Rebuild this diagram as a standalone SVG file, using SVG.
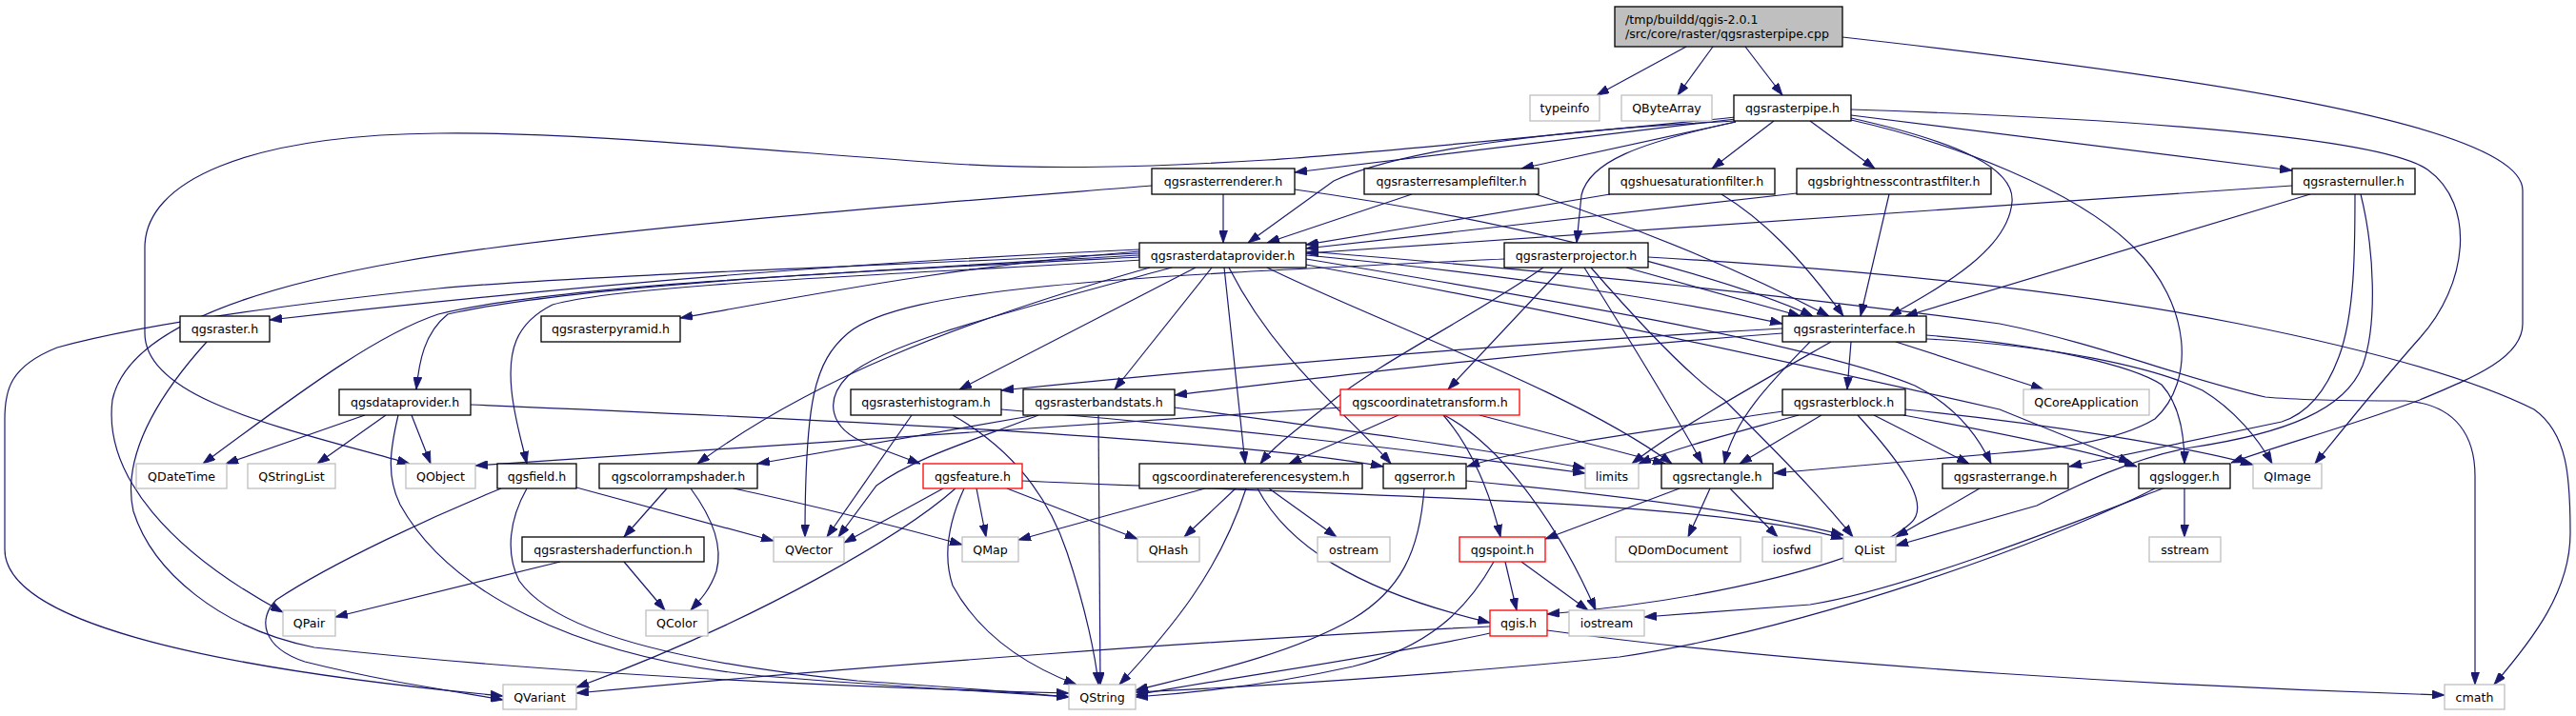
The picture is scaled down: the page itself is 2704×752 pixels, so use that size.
<svg xmlns="http://www.w3.org/2000/svg" width="2704" height="752" viewBox="0 0 2704 752">
<style>
.n rect{fill:#fff;stroke:#000;stroke-width:1.3}
.r rect{fill:#fff;stroke:#ff0000;stroke-width:1.3}
.g rect{fill:#fff;stroke:#bfbfbf;stroke-width:1.3}
text{font-family:"DejaVu Sans","Liberation Sans",sans-serif;font-size:12.6px;fill:#000;text-anchor:middle}
#edges path{fill:none;stroke:#191970;stroke-width:1.2;marker-end:url(#ah)}
</style>
<defs>
<marker id="ah" viewBox="0 0 13 9" markerWidth="13" markerHeight="9" refX="13" refY="4.5" orient="auto" markerUnits="userSpaceOnUse">
<path d="M0,0 L13,4.5 L0,9 z" fill="#191970" stroke="#191970" stroke-width="0.8"/>
</marker>
</defs>
<rect width="2704" height="752" fill="#fff"/>
<g id="edges">
<path d="M1770,49 L1676,100"/>
<path d="M1798,49 L1761,100"/>
<path d="M1832,49 L1871,100"/>
<path d="M1934,39 C2300,80 2648,130 2648,200 L2648,340 C2648,375 2600,395 2540,420 C2460,450 2390,468 2342,486"/>
<path d="M1822,125 C1650,145 1450,170 1359,181"/>
<path d="M1822,123 C1650,140 1450,160 1330,168 C1200,176 1100,178 1000,172 C800,158 600,138 460,140 C260,142 152,190 152,260 L152,350 C152,420 300,450 430,487"/>
<path d="M1822,127 C1620,137 1470,158 1400,190 L1310,255"/>
<path d="M1822,128 L1597,177"/>
<path d="M1862,127 L1797,177"/>
<path d="M1900,127 L1968,177"/>
<path d="M1943,121 L2406,179"/>
<path d="M1943,115 C2250,125 2500,145 2548,178 C2600,215 2590,300 2540,355 C2500,400 2460,450 2430,487"/>
<path d="M1943,124 C2060,150 2115,178 2112,212 C2108,262 2040,300 1983,332"/>
<path d="M1822,128 C1720,150 1668,170 1660,205 L1655,255"/>
<path d="M1943,126 C2050,150 2180,200 2240,260 C2300,320 2305,400 2262,440 C2220,465 2150,472 2099,476 L1862,497"/>
<path d="M1284,204 L1284,255"/>
<path d="M1209,195 C1000,212 620,240 420,275 C250,305 133,350 118,420 C108,500 180,580 297,643"/>
<path d="M1359,199 C1550,225 1800,285 1903,332"/>
<path d="M1482,204 L1330,255"/>
<path d="M1612,204 C1720,240 1830,285 1920,332"/>
<path d="M1690,204 L1371,257"/>
<path d="M1807,204 C1850,230 1890,270 1935,332"/>
<path d="M1886,203 L1371,261"/>
<path d="M1983,204 L1953,332"/>
<path d="M2406,195 L1371,266"/>
<path d="M2425,204 L2000,332"/>
<path d="M2472,204 C2472,260 2472,330 2455,375 C2440,415 2420,435 2395,443 L2172,490"/>
<path d="M2478,204 C2492,260 2496,340 2480,384 C2462,430 2400,455 2300,470 C2240,480 2180,510 2138,531 L1990,573"/>
<path d="M1730,270 C1900,280 2150,300 2350,340 C2500,370 2600,400 2660,430 C2695,455 2698,500 2698,560 C2698,620 2660,670 2618,719"/>
<path d="M1707,281 L1890,332"/>
<path d="M1620,281 C1550,330 1450,380 1400,420 C1370,445 1340,465 1323,487"/>
<path d="M1640,281 L1520,409"/>
<path d="M1663,281 C1700,340 1750,420 1787,487"/>
<path d="M1670,281 C1730,350 1780,400 1810,420 C1860,470 1910,520 1945,564"/>
<path d="M1579,272 C1200,290 950,300 890,350 C855,380 845,420 845,564"/>
<path d="M1196,262 C900,275 600,300 283,336"/>
<path d="M1196,264 C1000,280 850,310 714,334"/>
<path d="M1196,268 C900,285 600,300 470,330 C445,350 440,380 437,409"/>
<path d="M1196,270 C900,285 580,300 460,330 C400,350 330,400 213,487"/>
<path d="M1196,266 C900,280 600,290 460,303 C300,320 150,340 60,365 C10,385 5,410 5,440 L5,577 C5,650 200,700 528,731"/>
<path d="M1200,273 C900,290 650,300 580,320 C540,340 533,370 537,410 C540,440 548,465 553,487"/>
<path d="M1207,281 C1000,340 850,400 732,487"/>
<path d="M1230,281 C1050,330 930,360 890,395 C865,420 870,450 910,466 L966,487"/>
<path d="M1255,281 L1007,409"/>
<path d="M1272,281 L1170,409"/>
<path d="M1285,281 L1307,487"/>
<path d="M1290,281 C1340,380 1420,440 1460,487"/>
<path d="M1371,268 C1600,290 1780,320 1871,340"/>
<path d="M1371,272 C1600,310 1900,360 2010,405 C2050,425 2075,455 2090,487"/>
<path d="M1330,281 C1450,340 1650,410 1755,487"/>
<path d="M1371,278 C1600,320 1900,385 2099,430 L2237,486"/>
<path d="M1371,264 C1700,290 1950,320 2099,340 C2200,360 2300,400 2378,417 C2420,421 2480,421 2525,421 C2580,425 2598,460 2598,500 L2598,719"/>
<path d="M1871,345 C1600,360 1300,385 1051,410"/>
<path d="M1871,350 C1600,370 1400,395 1233,415"/>
<path d="M1922,359 C1850,400 1760,450 1713,487"/>
<path d="M1900,359 C1860,400 1820,440 1810,487"/>
<path d="M1943,359 L1939,409"/>
<path d="M1990,359 L2145,409"/>
<path d="M2022,352 C2150,362 2240,385 2269,404 C2288,425 2293,455 2293,487"/>
<path d="M2022,356 C2150,362 2260,385 2312,410 C2345,430 2370,460 2385,487"/>
<path d="M383,436 L237,487"/>
<path d="M405,436 L333,487"/>
<path d="M432,436 L452,487"/>
<path d="M494,425 C900,442 1300,462 1452,490"/>
<path d="M418,436 C410,470 405,500 420,530 C470,620 600,690 800,710 C950,722 1050,727 1122,732"/>
<path d="M957,436 L868,564"/>
<path d="M1000,436 C1060,470 1100,520 1120,580 C1140,640 1150,690 1153,719"/>
<path d="M1051,430 C1300,450 1500,475 1664,497"/>
<path d="M1090,436 C1030,460 960,480 920,510 L880,564"/>
<path d="M1153,436 L1155,719"/>
<path d="M1233,428 C1400,450 1550,470 1664,492"/>
<path d="M1087,436 L795,487"/>
<path d="M1407,428 L499,489"/>
<path d="M1468,436 L1353,487"/>
<path d="M1515,436 C1545,470 1565,520 1575,564"/>
<path d="M1516,436 C1580,470 1640,560 1675,641"/>
<path d="M1553,436 L1748,487"/>
<path d="M1871,432 C1750,450 1600,470 1540,490"/>
<path d="M1888,436 C1820,455 1760,470 1720,487"/>
<path d="M1912,436 L1826,487"/>
<path d="M1950,436 C1990,480 2030,530 2005,550 C1960,590 1800,630 1624,645"/>
<path d="M1967,436 L2067,487"/>
<path d="M1998,436 C2100,455 2200,475 2243,490"/>
<path d="M2000,430 C2150,445 2300,470 2365,488"/>
<path d="M990,513 L886,570"/>
<path d="M1003,513 C950,560 800,650 605,722"/>
<path d="M1012,513 C995,550 990,585 1000,615 C1030,670 1080,700 1130,719"/>
<path d="M1025,513 L1035,564"/>
<path d="M1057,513 L1194,566"/>
<path d="M1073,505 C1400,520 1800,525 1935,566"/>
<path d="M1265,513 L1069,567"/>
<path d="M1297,513 L1243,564"/>
<path d="M1308,513 C1280,600 1230,660 1175,719"/>
<path d="M1320,513 C1350,570 1420,620 1564,654"/>
<path d="M1332,513 L1403,564"/>
<path d="M1495,513 C1490,580 1470,620 1420,650 C1350,690 1250,710 1192,725"/>
<path d="M1539,505 C1700,520 1850,540 1935,562"/>
<path d="M1763,513 L1622,566"/>
<path d="M1795,513 L1772,564"/>
<path d="M1816,513 L1866,564"/>
<path d="M2078,513 L1990,564"/>
<path d="M2293,513 L2293,564"/>
<path d="M2270,513 C2200,540 2000,620 1900,635 L1726,648"/>
<path d="M2262,513 C2150,570 1900,660 1700,690 C1500,710 1300,722 1192,727"/>
<path d="M700,513 L655,564"/>
<path d="M725,513 C745,540 760,570 752,600 C745,620 735,630 725,641"/>
<path d="M770,513 C850,530 950,555 1010,572"/>
<path d="M655,590 L698,641"/>
<path d="M588,590 L352,648"/>
<path d="M605,512 L812,568"/>
<path d="M526,513 C460,540 350,590 290,630 C270,650 275,680 320,695 C400,715 470,725 528,735"/>
<path d="M553,513 C535,545 530,580 545,610 C580,660 700,695 900,715 C1000,722 1080,728 1122,732"/>
<path d="M217,359 C180,400 125,470 140,537 C160,600 230,660 330,680 C600,710 900,722 1122,728"/>
<path d="M1580,590 L1592,641"/>
<path d="M1597,590 L1667,641"/>
<path d="M1568,590 C1540,640 1500,680 1420,700 C1330,720 1250,728 1192,732"/>
<path d="M1564,665 C1450,690 1300,710 1192,730"/>
<path d="M1624,662 C1900,700 2300,722 2566,730"/>
<path d="M1564,658 C1300,670 900,700 605,728"/>
</g>
<g id="nodes">
<g id="root" class="n"><rect x="1695" y="7" width="239" height="42" style="fill:#bfbfbf"/><text x="1706" y="24.5" style="text-anchor:start">/tmp/buildd/qgis-2.0.1</text><text x="1706" y="40" style="text-anchor:start">/src/core/raster/qgsrasterpipe.cpp</text></g>
<g id="typeinfo" class="g"><rect x="1606" y="100" width="73" height="27"/><text x="1642.5" y="118">typeinfo</text></g>
<g id="QByteArray" class="g"><rect x="1702" y="100" width="95" height="27"/><text x="1749.5" y="118">QByteArray</text></g>
<g id="qgsrasterpipe" class="n"><rect x="1820" y="100" width="123" height="27"/><text x="1881.5" y="118">qgsrasterpipe.h</text></g>
<g id="qgsrasterrenderer" class="n"><rect x="1209" y="177" width="150" height="27"/><text x="1284" y="195">qgsrasterrenderer.h</text></g>
<g id="qgsrasterresamplefilter" class="n"><rect x="1432" y="177" width="183" height="27"/><text x="1523.5" y="195">qgsrasterresamplefilter.h</text></g>
<g id="qgshuesaturationfilter" class="n"><rect x="1689" y="177" width="174" height="27"/><text x="1776" y="195">qgshuesaturationfilter.h</text></g>
<g id="qgsbrightnesscontrastfilter" class="n"><rect x="1886" y="177" width="204" height="27"/><text x="1988" y="195">qgsbrightnesscontrastfilter.h</text></g>
<g id="qgsrasternuller" class="n"><rect x="2406" y="177" width="129" height="27"/><text x="2470.5" y="195">qgsrasternuller.h</text></g>
<g id="qgsrasterdataprovider" class="n"><rect x="1196" y="255" width="175" height="26"/><text x="1283.5" y="272.5">qgsrasterdataprovider.h</text></g>
<g id="qgsrasterprojector" class="n"><rect x="1579" y="255" width="151" height="26"/><text x="1654.5" y="272.5">qgsrasterprojector.h</text></g>
<g id="qgsraster" class="n"><rect x="189" y="332" width="94" height="27"/><text x="236" y="350">qgsraster.h</text></g>
<g id="qgsrasterpyramid" class="n"><rect x="568" y="332" width="146" height="27"/><text x="641" y="350">qgsrasterpyramid.h</text></g>
<g id="qgsrasterinterface" class="n"><rect x="1871" y="332" width="151" height="27"/><text x="1946.5" y="350">qgsrasterinterface.h</text></g>
<g id="qgsdataprovider" class="n"><rect x="356" y="409" width="138" height="27"/><text x="425" y="427">qgsdataprovider.h</text></g>
<g id="qgsrasterhistogram" class="n"><rect x="893" y="409" width="158" height="27"/><text x="972" y="427">qgsrasterhistogram.h</text></g>
<g id="qgsrasterbandstats" class="n"><rect x="1074" y="409" width="159" height="27"/><text x="1153.5" y="427">qgsrasterbandstats.h</text></g>
<g id="qgscoordinatetransform" class="r"><rect x="1407" y="409" width="188" height="27"/><text x="1501" y="427">qgscoordinatetransform.h</text></g>
<g id="qgsrasterblock" class="n"><rect x="1871" y="409" width="129" height="27"/><text x="1935.5" y="427">qgsrasterblock.h</text></g>
<g id="QCoreApplication" class="g"><rect x="2124" y="409" width="132" height="27"/><text x="2190" y="427">QCoreApplication</text></g>
<g id="QDateTime" class="g"><rect x="143" y="487" width="95" height="26"/><text x="190.5" y="504.5">QDateTime</text></g>
<g id="QStringList" class="g"><rect x="260" y="487" width="92" height="26"/><text x="306" y="504.5">QStringList</text></g>
<g id="QObject" class="g"><rect x="426" y="487" width="73" height="26"/><text x="462.5" y="504.5">QObject</text></g>
<g id="qgsfield" class="n"><rect x="522" y="487" width="83" height="26"/><text x="563.5" y="504.5">qgsfield.h</text></g>
<g id="qgscolorrampshader" class="n"><rect x="629" y="487" width="166" height="26"/><text x="712" y="504.5">qgscolorrampshader.h</text></g>
<g id="qgsfeature" class="r"><rect x="969" y="487" width="104" height="26"/><text x="1021" y="504.5">qgsfeature.h</text></g>
<g id="qgscoordinatereferencesystem" class="n"><rect x="1196" y="487" width="234" height="26"/><text x="1313" y="504.5">qgscoordinatereferencesystem.h</text></g>
<g id="qgserror" class="n"><rect x="1452" y="487" width="87" height="26"/><text x="1495.5" y="504.5">qgserror.h</text></g>
<g id="limits" class="g"><rect x="1664" y="487" width="56" height="26"/><text x="1692" y="504.5">limits</text></g>
<g id="qgsrectangle" class="n"><rect x="1744" y="487" width="117" height="26"/><text x="1802.5" y="504.5">qgsrectangle.h</text></g>
<g id="qgsrasterrange" class="n"><rect x="2039" y="487" width="132" height="26"/><text x="2105" y="504.5">qgsrasterrange.h</text></g>
<g id="qgslogger" class="n"><rect x="2245" y="487" width="96" height="26"/><text x="2293" y="504.5">qgslogger.h</text></g>
<g id="QImage" class="g"><rect x="2365" y="487" width="72" height="26"/><text x="2401" y="504.5">QImage</text></g>
<g id="qgsrastershaderfunction" class="n"><rect x="548" y="564" width="191" height="26"/><text x="643.5" y="581.5">qgsrastershaderfunction.h</text></g>
<g id="QVector" class="g"><rect x="812" y="564" width="74" height="26"/><text x="849" y="581.5">QVector</text></g>
<g id="QMap" class="g"><rect x="1010" y="564" width="59" height="26"/><text x="1039.5" y="581.5">QMap</text></g>
<g id="QHash" class="g"><rect x="1194" y="564" width="65" height="26"/><text x="1226.5" y="581.5">QHash</text></g>
<g id="ostream" class="g"><rect x="1383" y="564" width="76" height="26"/><text x="1421" y="581.5">ostream</text></g>
<g id="qgspoint" class="r"><rect x="1532" y="564" width="90" height="26"/><text x="1577" y="581.5">qgspoint.h</text></g>
<g id="QDomDocument" class="g"><rect x="1696" y="564" width="131" height="26"/><text x="1761.5" y="581.5">QDomDocument</text></g>
<g id="iosfwd" class="g"><rect x="1850" y="564" width="62" height="26"/><text x="1881" y="581.5">iosfwd</text></g>
<g id="QList" class="g"><rect x="1935" y="564" width="55" height="26"/><text x="1962.5" y="581.5">QList</text></g>
<g id="sstream" class="g"><rect x="2256" y="564" width="75" height="26"/><text x="2293.5" y="581.5">sstream</text></g>
<g id="QPair" class="g"><rect x="297" y="641" width="55" height="27"/><text x="324.5" y="659">QPair</text></g>
<g id="QColor" class="g"><rect x="678" y="641" width="65" height="27"/><text x="710.5" y="659">QColor</text></g>
<g id="qgis" class="r"><rect x="1564" y="641" width="60" height="27"/><text x="1594" y="659">qgis.h</text></g>
<g id="iostream" class="g"><rect x="1647" y="641" width="79" height="27"/><text x="1686.5" y="659">iostream</text></g>
<g id="QVariant" class="g"><rect x="528" y="719" width="77" height="26"/><text x="566.5" y="736.5">QVariant</text></g>
<g id="QString" class="g"><rect x="1122" y="719" width="70" height="26"/><text x="1157" y="736.5">QString</text></g>
<g id="cmath" class="g"><rect x="2566" y="719" width="63" height="26"/><text x="2597.5" y="736.5">cmath</text></g>
</g>
</svg>
